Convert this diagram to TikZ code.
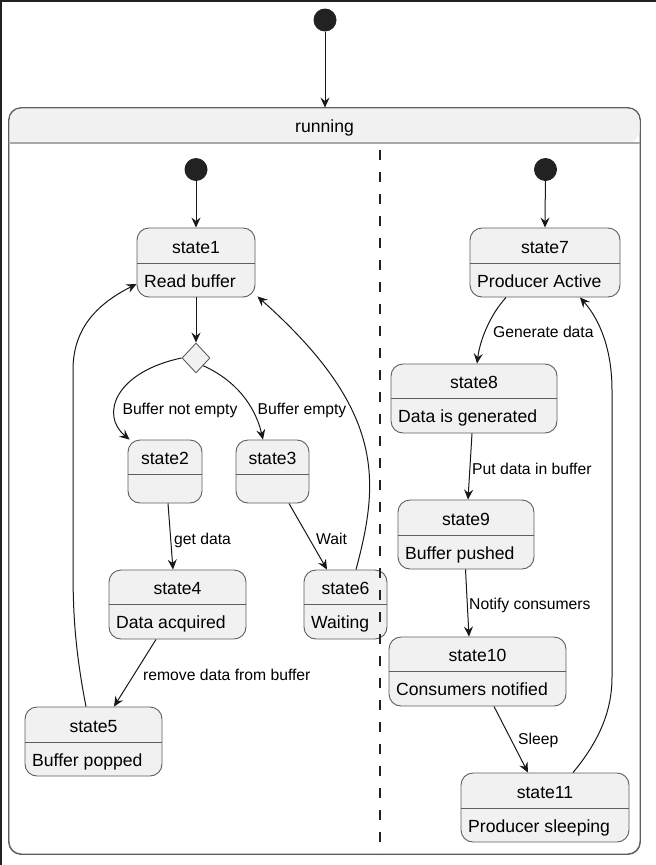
\documentclass[tikz,border=0pt]{standalone}
\usepackage{fontspec}
\setmainfont{Liberation Sans}
\usetikzlibrary{arrows.meta,shapes.geometric}
\definecolor{sfill}{HTML}{F1F1F1}
\definecolor{sline}{HTML}{5E5E5E}
\definecolor{aline}{HTML}{181818}
\definecolor{idot}{HTML}{222222}
\definecolor{hline}{HTML}{A8A8A8}
\tikzset{
 statebox/.style={draw=sline, fill=sfill, line width=0.9pt, rounded corners=12pt, inner sep=0pt},
 divline/.style={draw=sline, line width=0.9pt},
 titletext/.style={font=\fontsize{17.6}{20}\selectfont, anchor=base, inner sep=0pt},
 desctext/.style={font=\fontsize{17.6}{20}\selectfont, anchor=base west, inner sep=0pt},
 lbl/.style={font=\fontsize{15.7}{18}\selectfont, anchor=base west, inner sep=0pt},
 initdot/.style={circle, fill=idot, minimum size=23pt, inner sep=0pt},
 arr/.style={draw=aline, line width=1pt, -{Stealth[length=10pt,width=9pt,inset=3.5pt]}},
 choice/.style={diamond, draw=sline, fill=sfill, line width=0.9pt, minimum width=28pt, minimum height=30pt, inner sep=0pt},
 lane/.style={draw=idot, line width=1.8pt, dash pattern=on 10pt off 12pt},
 frameline/.style={draw=idot, line width=2pt},
}
% name, x1, y1, x2, y2, ydiv, title, description
\newcommand\mkstate[8]{%
  \node[statebox, minimum width={(#4-#2)*1pt}, minimum height={(#5-#3)*1pt}] (#1) at ({(#2+#4)/2},{(#3+#5)/2}) {};
  \draw[divline] ({#2},{#6}) -- ({#4},{#6});
  \node[titletext] (#1-t) at ({(#2+#4)/2},{#6-9.5}) {#7};
  \if\relax\detokenize{#8}\relax\else
  \node[desctext] (#1-d) at ({#2+7},{#6+24}) {#8};
  \fi
}
\begin{document}
\begin{tikzpicture}[x=1pt,y=-1pt]
\useasboundingbox (0,0) rectangle (656,865);
% screenshot frame
\draw[frameline] (656,1) -- (1,1) -- (1,865);

% composite state "running"
\node[draw=sline, fill=white, line width=0.9pt, rounded corners=12.5pt, minimum width=631pt, minimum height=746pt, inner sep=0pt] (running) at (324.5,481) {};
\fill[sfill] (9.5,143) [rounded corners=12pt] |- (324.5,108.5) -| (639.5,143) [sharp corners] -- cycle;
\draw[hline, line width=1.5pt] (9.5,143) -- (639.5,143);
\draw[draw=sline, line width=0.9pt, rounded corners=12.5pt] (running.north west) rectangle (running.south east);
\node[titletext] (running-t) at (324.5,132.5) {running};

% initial states
\node[initdot] (i0) at (325,20) {};
\node[initdot] (i1) at (196,169.5) {};
\node[initdot] (i2) at (545.5,169.5) {};

% left region
\mkstate{s1}{137}{228}{255}{297}{263}{state1}{Read buffer}
\node[choice] (d) at (196,358) {};
\mkstate{s2}{128}{440}{202}{503}{474}{state2}{}
\mkstate{s3}{236}{440}{309}{503}{474}{state3}{}
\mkstate{s4}{109}{570}{246}{639}{604}{state4}{Data acquired}
\mkstate{s6}{304}{570}{387}{639}{604}{state6}{Waiting}
\mkstate{s5}{25}{707}{162}{776}{742}{state5}{Buffer popped}

% right region
\mkstate{s7}{470}{228}{620}{297}{263}{state7}{Producer Active}
\mkstate{s8}{391}{364}{557}{433}{398}{state8}{Data is generated}
\mkstate{s9}{398}{500}{534}{569}{535}{state9}{Buffer pushed}
\mkstate{s10}{389}{637}{566}{706}{671}{state10}{Consumers notified}
\mkstate{s11}{461}{773}{629}{842}{808}{state11}{Producer sleeping}

% region separator
\draw[lane] (380,150) -- (380,854);

% transitions
\draw[arr] (i0) -- (i0 |- running.north);
\draw[arr] (i1) -- (s1.north);
\draw[arr] (s1.south) -- (d.north);
\draw[arr] (d.west) .. controls (115,372) and (100,415) .. ([xshift=2pt]s2.north west);
\node[lbl, anchor=base] (l1) at (180,414) {Buffer not empty};
\draw[arr] (d.south east) .. controls (235,380) and (255,405) .. ([xshift=-9.5pt]s3.north);
\node[lbl, anchor=base] (l2) at (302,414) {Buffer empty};
\draw[arr] ([xshift=3pt]s2.south) -- ([xshift=-4.5pt]s4.north);
\node[lbl] (l3) at (174,544) {get data};
\draw[arr] ([xshift=16.5pt]s3.south) -- ([xshift=-18.5pt]s6.north);
\node[lbl] (l4) at (316,544) {Wait};
\draw[arr] ([xshift=10.5pt]s6.north) .. controls (380,480) and (385,410) .. ([xshift=2pt,yshift=1pt]s1.south east);
\draw[arr] ([xshift=-21.5pt]s4.south) -- ([xshift=20.5pt]s5.north);
\node[lbl] (l5) at (143,680) {remove data from buffer};
\draw[arr] ([xshift=-7.5pt]s5.north) .. controls (73,640) and (73,600) .. (73,560) -- (73,370) .. controls (73,330) and (95,305) .. ([yshift=-21.5pt]s1.west);

\draw[arr] (i2) -- (s7.north);
\draw[arr] ([xshift=-39pt]s7.south) .. controls (490,315) and (480,340) .. ([xshift=3pt]s8.north);
\node[lbl] (l6) at (493,337) {Generate data};
\draw[arr] ([xshift=-2pt]s8.south) -- ([xshift=2pt]s9.north);
\node[lbl] (l7) at (472,474) {Put data in buffer};
\draw[arr] ([xshift=-0.5pt]s9.south) -- ([xshift=-8.5pt]s10.north);
\node[lbl] (l8) at (469,609) {Notify consumers};
\draw[arr] ([xshift=16.5pt]s10.south) -- ([xshift=-17pt]s11.north);
\node[lbl] (l9) at (518,744) {Sleep};
\draw[arr] ([xshift=28pt]s11.north) .. controls (600,740) and (612,710) .. (612,677) -- (612,390) .. controls (612,350) and (600,320) .. ([xshift=35pt]s7.south);
\end{tikzpicture}
\end{document}
